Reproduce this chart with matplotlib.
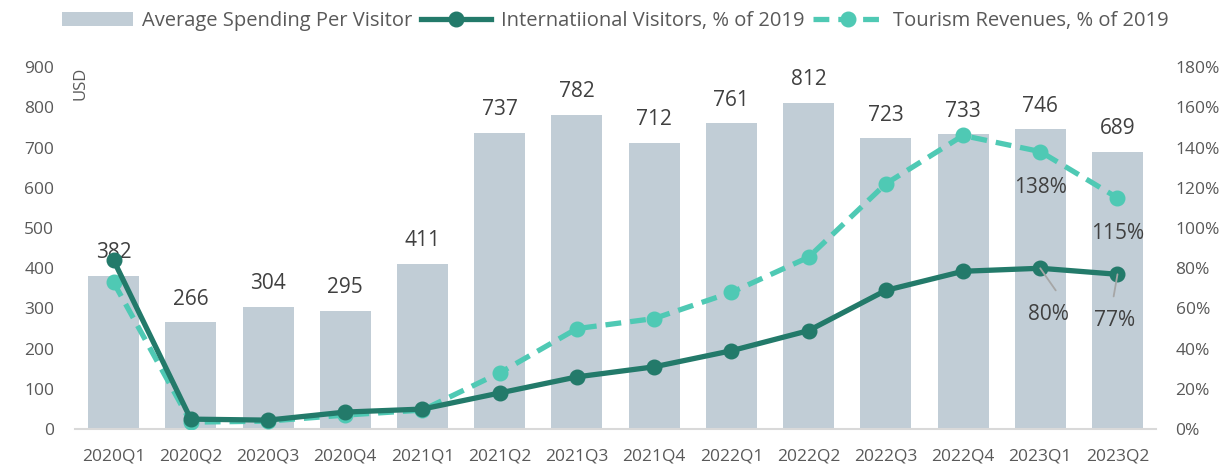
import numpy as np
import matplotlib.pyplot as plt

plt.rcParams['font.family'] = ['Open Sans', 'DejaVu Sans']

quarters = ['2020Q1', '2020Q2', '2020Q3', '2020Q4', '2021Q1', '2021Q2', '2021Q3',
            '2021Q4', '2022Q1', '2022Q2', '2022Q3', '2022Q4', '2023Q1', '2023Q2']
spending = [382, 266, 304, 295, 411, 737, 782, 712, 761, 812, 723, 733, 746, 689]
visitors = [84, 5, 4.5, 8.5, 10, 18, 26, 31, 39, 49, 69, 78.5, 80, 77]
revenues = [73, 3.5, 4, 7, 9.5, 28, 50, 55, 68, 85.5, 122, 146, 138, 115]

bar_c = '#c1cdd6'
dark = '#237a6a'
light = '#4fc9b4'
txt = '#595959'
lbl = '#404040'

fig = plt.figure(figsize=(12.23, 4.66), dpi=100)
ax = fig.add_axes([0.0613, 0.079, 0.884, 0.777])
ax2 = ax.twinx()

x = np.arange(len(quarters))
ax.bar(x, spending, width=0.66, color=bar_c, label='Average Spending Per Visitor', zorder=1)
for xi, v in zip(x, spending):
    ax.annotate(str(v), (xi, v), xytext=(0, 9), textcoords='offset points',
                ha='center', va='bottom', fontsize=15, color=lbl)

ax2.plot(x, visitors, color=dark, lw=3.8, marker='o', ms=10.5,
         label='Internatiional Visitors, % of 2019', zorder=3)
ax2.plot(x, revenues, color=light, lw=3.8, ls=(0, (3, 1.7)), marker='o', ms=10.5,
         label='Tourism Revenues, % of 2019', zorder=2)

# labels on the last two quarters
for i in (12, 13):
    ax2.annotate(f'{revenues[i]:.0f}%', (x[i], revenues[i]), xytext=(0, -26),
                 textcoords='offset points', ha='center', va='center',
                 fontsize=15, color=lbl)
    ax2.annotate(f'{visitors[i]:.0f}%', (x[i], visitors[i]), xytext=(6 if i == 12 else -2, -33),
                 textcoords='offset points', ha='center', va='center',
                 fontsize=15, color=lbl)
    ax2.annotate('', (x[i], visitors[i]), xytext=(x[i] + (0.2 if i == 12 else -0.05), visitors[i] - 11),
                 arrowprops=dict(arrowstyle='-', color='#a6a6a6', lw=1.3, shrinkA=0, shrinkB=0))

ax.set_ylim(0, 900)
ax2.set_ylim(0, 180)
ax.set_xlim(-0.5, len(quarters) - 0.5)
ax.set_yticks(range(0, 901, 100))
ax2.set_yticks(range(0, 181, 20))
ax2.set_yticklabels([f'{t}%' for t in range(0, 181, 20)])
ax.set_xticks(x)
ax.set_xticklabels(quarters)

for a in (ax, ax2):
    for s in a.spines.values():
        s.set_visible(False)
    a.tick_params(length=0, labelsize=12.5, colors=txt)
ax.spines['bottom'].set_visible(True)
ax.spines['bottom'].set_color('#d9d9d9')
ax.spines['bottom'].set_linewidth(1.5)
ax.tick_params(axis='x', pad=14)
ax.tick_params(axis='y', pad=15)
ax2.tick_params(axis='y', pad=14)

ax.text(0.005, 0.955, 'USD', transform=ax.transAxes, rotation=90, ha='center',
        va='center', fontsize=12, color=txt)

h1, l1 = ax.get_legend_handles_labels()
h2, l2 = ax2.get_legend_handles_labels()
fig.legend(h1 + h2, l1 + l2, loc='center', bbox_to_anchor=(0.503, 0.955), ncol=3,
           frameon=False, fontsize=14.5, labelcolor=txt, handlelength=3.5,
           handletextpad=0.45, columnspacing=0.45)

fig.savefig('out.png', dpi=100)
